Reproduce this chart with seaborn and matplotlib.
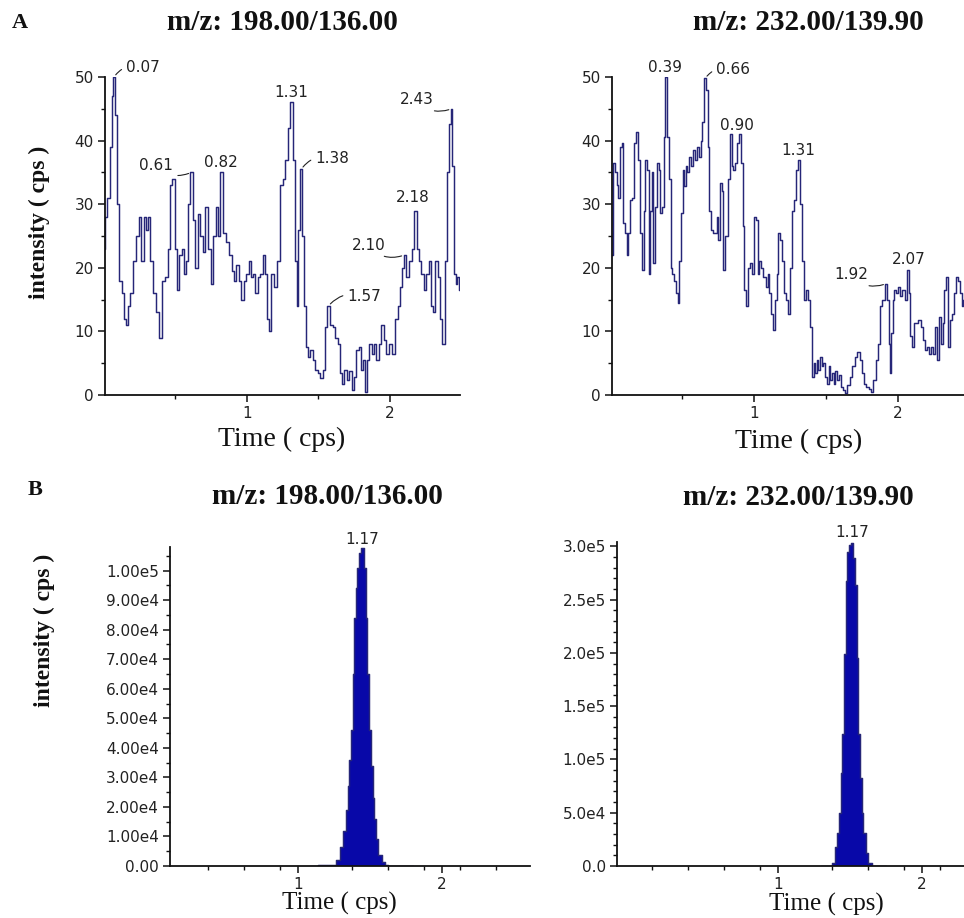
import matplotlib
matplotlib.use("Agg")
import matplotlib.pyplot as plt
import numpy as np
import pandas as pd
import seaborn as sns
from matplotlib.ticker import FixedLocator, FixedFormatter

# ---------------- data ----------------
# A: blank sample, channel 198.00/136.00
blank_198_t = [
    0.005, 0.015, 0.030, 0.050, 0.060, 0.070, 0.085, 0.100, 0.115, 0.135,
    0.147, 0.159, 0.170, 0.193, 0.217, 0.233, 0.252, 0.270, 0.287, 0.298,
    0.317, 0.333, 0.357, 0.373, 0.392, 0.415, 0.434, 0.457, 0.473, 0.485,
    0.503, 0.520, 0.536, 0.550, 0.566, 0.583, 0.597, 0.610, 0.630, 0.645,
    0.665, 0.683, 0.699, 0.718, 0.737, 0.755, 0.776, 0.788, 0.803, 0.820,
    0.840, 0.865, 0.886, 0.904, 0.916, 0.932, 0.951, 0.970, 0.986, 1.002,
    1.021, 1.033, 1.049, 1.068, 1.086, 1.103, 1.119, 1.138, 1.149, 1.161,
    1.179, 1.196, 1.219, 1.242, 1.259, 1.277, 1.296, 1.310, 1.331, 1.343,
    1.352, 1.366, 1.380, 1.394, 1.406, 1.422, 1.436, 1.452, 1.469, 1.487,
    1.506, 1.522, 1.538, 1.555, 1.570, 1.592, 1.608, 1.627, 1.646, 1.662,
    1.674, 1.690, 1.709, 1.725, 1.739, 1.755, 1.772, 1.790, 1.802, 1.818,
    1.832, 1.848, 1.865, 1.879, 1.895, 1.911, 1.930, 1.949, 1.965, 1.981,
    2.000, 2.023, 2.047, 2.065, 2.080, 2.090, 2.100, 2.128, 2.145, 2.163,
    2.180, 2.196, 2.210, 2.228, 2.245, 2.261, 2.280, 2.294, 2.308, 2.326,
    2.345, 2.359, 2.373, 2.392, 2.408, 2.420, 2.430, 2.443, 2.455, 2.466,
    2.478, 2.490,
]
blank_198_i = [
    23, 28, 31, 39, 47, 50, 44, 30, 18, 16,
    12, 11, 14, 16, 21, 25, 28, 21, 28, 26,
    28, 21, 16, 13, 9, 18, 18.5, 23, 33, 34,
    23, 16.5, 22, 23, 19, 21, 30, 35, 27.5, 20,
    28.5, 25, 22.5, 29.5, 23, 17.5, 25, 29.5, 25, 35,
    25.5, 24, 22, 19.5, 18, 20.5, 18, 15, 18, 19,
    21, 18.5, 19, 16, 18.5, 19, 22, 19, 12, 10,
    19, 17, 21, 33, 34, 37, 42, 46, 37, 21,
    14, 26, 35.5, 25, 14, 7.6, 6, 7, 5.5, 4,
    3.4, 2.6, 4, 10.7, 14, 11, 10.7, 9, 8, 3.4,
    1.8, 4, 2.4, 3.7, 0.8, 2.9, 7, 7.6, 4, 5.5,
    0.5, 5.5, 8, 6.5, 8, 5.5, 8, 11, 8.6, 6.5,
    8, 6.5, 12, 14, 17, 20, 22, 18.5, 21, 23,
    29, 23, 21, 19, 16.5, 19, 21, 14, 13, 21,
    18.5, 12, 8, 21, 35, 42.6, 45, 36, 19, 17.5,
    18.5, 16.5,
]
blank_198_peaks = [0.07, 0.61, 0.82, 1.31, 1.38, 1.57, 2.10, 2.18, 2.43]

# A: blank sample, channel 232.00/139.90
blank_232_t = [
    0.003, 0.008, 0.020, 0.036, 0.050, 0.059, 0.073, 0.085, 0.096, 0.108,
    0.120, 0.129, 0.143, 0.159, 0.175, 0.187, 0.199, 0.213, 0.224, 0.236,
    0.245, 0.259, 0.271, 0.282, 0.294, 0.305, 0.317, 0.329, 0.340, 0.352,
    0.364, 0.375, 0.390, 0.403, 0.414, 0.426, 0.438, 0.449, 0.461, 0.473,
    0.484, 0.496, 0.508, 0.519, 0.531, 0.542, 0.554, 0.570, 0.584, 0.600,
    0.612, 0.624, 0.635, 0.647, 0.660, 0.670, 0.682, 0.693, 0.705, 0.721,
    0.735, 0.747, 0.756, 0.768, 0.779, 0.791, 0.802, 0.814, 0.826, 0.840,
    0.851, 0.863, 0.875, 0.886, 0.900, 0.914, 0.926, 0.937, 0.949, 0.961,
    0.977, 0.991, 1.007, 1.019, 1.030, 1.042, 1.053, 1.072, 1.088, 1.100,
    1.111, 1.123, 1.139, 1.151, 1.165, 1.174, 1.186, 1.197, 1.216, 1.228,
    1.244, 1.258, 1.274, 1.286, 1.297, 1.310, 1.327, 1.339, 1.355, 1.367,
    1.379, 1.397, 1.409, 1.420, 1.430, 1.441, 1.455, 1.467, 1.478, 1.490,
    1.502, 1.513, 1.525, 1.537, 1.548, 1.560, 1.571, 1.583, 1.595, 1.611,
    1.630, 1.641, 1.657, 1.676, 1.692, 1.709, 1.727, 1.743, 1.757, 1.774,
    1.792, 1.808, 1.825, 1.839, 1.855, 1.871, 1.885, 1.903, 1.920, 1.932,
    1.943, 1.953, 1.960, 1.971, 1.983, 1.999, 2.011, 2.025, 2.041, 2.057,
    2.070, 2.083, 2.094, 2.110, 2.122, 2.138, 2.152, 2.168, 2.185, 2.196,
    2.210, 2.226, 2.238, 2.254, 2.268, 2.280, 2.291, 2.308, 2.319, 2.331,
    2.347, 2.359, 2.373, 2.389, 2.401, 2.415, 2.429, 2.443, 2.454, 2.463,
    2.480,
]
blank_232_i = [
    34, 22, 36.4, 35, 33, 31, 39, 39.6, 27, 25.4,
    22, 25.4, 30.7, 31, 39.6, 41.4, 37, 25.4, 19.7, 29,
    37, 35.4, 19, 29, 35, 20.7, 29.6, 36.4, 35.4, 28.6,
    29.6, 40.6, 50, 40.6, 34, 20, 19, 18, 16, 14.4,
    21, 28.6, 35.4, 32.8, 36, 35, 37.5, 36, 38.5, 37,
    39, 37.5, 40, 43, 49.8, 48, 39, 29, 26, 25.4,
    25.4, 28, 24.4, 33.3, 32, 19.7, 25, 25, 34, 41,
    36, 35.4, 36.4, 39.6, 41, 36.4, 26.5, 16.5, 14, 20,
    20.7, 19, 28, 27.5, 19, 21, 20, 18.6, 17, 19,
    16, 12.8, 10.2, 15, 19, 25.4, 24.4, 21, 16, 15,
    12.8, 20, 29, 30.7, 35.4, 37, 30, 21, 15, 16.5,
    15, 10.7, 2.9, 5, 3.4, 5.5, 4, 6, 4.5, 5,
    2.9, 1.8, 4.5, 2.4, 3.4, 1.8, 3.7, 2.4, 3.1, 1.3,
    0.8, 0.3, 1.6, 2.9, 4.5, 6, 6.8, 5.5, 3.4, 1.8,
    1.3, 1, 0.5, 2.4, 5.5, 8, 14, 15, 17.5, 15,
    8, 3.4, 9.7, 15, 16.5, 16, 17, 15.5, 16.5, 15,
    19.7, 16, 9.2, 7.6, 11.3, 11.3, 11.8, 10.7, 8.6, 7,
    7.6, 6.5, 7.6, 6.5, 10.7, 5.5, 12.3, 8, 11.3, 16.5,
    18.6, 7.6, 11.8, 12.8, 16, 18.6, 18, 16, 14, 15,
    14,
]
blank_232_peaks = [0.39, 0.66, 0.90, 1.31, 1.92, 2.07]

# B: spiked sample, channel 198.00/136.00
std_198_t = [1.080, 1.200, 1.245, 1.280, 1.303, 1.326, 1.338, 1.350, 1.361, 1.373,
             1.384, 1.396, 1.407, 1.419, 1.430, 1.447, 1.465, 1.477, 1.488, 1.500,
             1.512, 1.523, 1.535, 1.546, 1.569, 1.593, 1.616, 1.639, 1.800]
std_198_i = [0, 300, 500, 2000, 6400, 12000, 19000, 27000, 36000, 46000,
             65000, 84000, 94000, 101000, 106000, 107500, 101000, 84000, 65000, 46000,
             34000, 23000, 16000, 9000, 3600, 1400, 500, 0, 0]

# B: spiked sample, channel 232.00/139.90
std_232_t = [1.300, 1.373, 1.384, 1.407, 1.419, 1.430, 1.442, 1.454, 1.465, 1.477,
             1.488, 1.500, 1.516, 1.530, 1.542, 1.551, 1.563, 1.574, 1.588, 1.600,
             1.616, 1.639, 1.662, 1.750]
std_232_i = [0, 0, 2800, 18000, 31000, 50000, 87000, 124000, 199000, 267000,
             295000, 301000, 303000, 289000, 264000, 195000, 124000, 83000, 50000, 31000,
             12000, 2800, 0, 0]
std_peak_label = "1.17"

titles = ["m/z: 198.00/136.00", "m/z: 232.00/139.90"]
panel_letters = ["A", "B"]
y_label = "intensity ( cps )"
x_label = "Time ( cps)"

top_yticks = [0, 10, 20, 30, 40, 50]
top_yticklabels = ["0", "10", "20", "30", "40", "50"]
b198_yticks = [0, 1e4, 2e4, 3e4, 4e4, 5e4, 6e4, 7e4, 8e4, 9e4, 1e5]
b198_yticklabels = ["0.00", "1.00e4", "2.00e4", "3.00e4", "4.00e4", "5.00e4",
                    "6.00e4", "7.00e4", "8.00e4", "9.00e4", "1.00e5"]
b232_yticks = [0, 5e4, 1e5, 1.5e5, 2e5, 2.5e5, 3e5]
b232_yticklabels = ["0.0", "5.0e4", "1.0e5", "1.5e5", "2.0e5", "2.5e5", "3.0e5"]
x_ticks = [1, 2]
x_ticklabels = ["1", "2"]

# ---------------- style ----------------
sns.set_style("white")
plt.rcParams["font.family"] = ["DejaVu Sans"]
SERIF = "Liberation Serif"
LINE_C = "#262678"
FILL_C = "#0808a8"
TXT_C = "#222222"

W, H = 964, 918
fig = plt.figure(figsize=(W / 100, H / 100), dpi=100)
fig.patch.set_facecolor("white")


def rect(x0, x1, ytop, ybot):
    return [x0 / W, 1 - ybot / H, (x1 - x0) / W, (ybot - ytop) / H]


def style_axes(ax, xlim, ylim, yticks, yticklabels, yminor, xminor):
    ax.set_xlim(*xlim)
    ax.set_ylim(*ylim)
    for s in ("top", "right"):
        ax.spines[s].set_visible(False)
    for s in ("left", "bottom"):
        ax.spines[s].set_color("#111111")
        ax.spines[s].set_linewidth(1.3)
    ax.xaxis.set_major_locator(FixedLocator(x_ticks))
    ax.xaxis.set_major_formatter(FixedFormatter(x_ticklabels))
    ax.xaxis.set_minor_locator(FixedLocator(xminor))
    ax.yaxis.set_major_locator(FixedLocator(yticks))
    ax.yaxis.set_major_formatter(FixedFormatter(yticklabels))
    ax.yaxis.set_minor_locator(FixedLocator(yminor))
    ax.tick_params(which="major", direction="out", length=5, width=1.1,
                   color="#111111", labelsize=11, labelcolor=TXT_C, pad=3,
                   left=True, bottom=True)
    ax.tick_params(which="minor", direction="out", length=3, width=1.0,
                   color="#111111", left=True, bottom=True)
    ax.set_xlabel("")
    ax.set_ylabel("")
    ax.set_facecolor("white")


def draw_trace(ax, t, i):
    df = pd.DataFrame({"t": t, "i": i})
    sns.lineplot(data=df, x="t", y="i", ax=ax, color=LINE_C, lw=1.05,
                 drawstyle="steps-mid", estimator=None, sort=False, legend=False)


def label_peaks(ax, t, i, peaks, placement):
    t_arr = np.asarray(t)
    for rt, (dx, dy, ha, leader) in zip(peaks, placement):
        k = int(np.argmin(np.abs(t_arr - rt)))
        xy = (t_arr[k], i[k])
        kw = dict(xy=xy, xytext=(dx, dy), textcoords="offset pixels",
                  ha=ha, va="center", fontsize=11, color=TXT_C, annotation_clip=False)
        if leader:
            kw["arrowprops"] = dict(arrowstyle="-", color=TXT_C, lw=0.8,
                                    shrinkA=1, shrinkB=2,
                                    connectionstyle="arc3,rad=0.35")
        ax.annotate(f"{rt:.2f}", **kw)


# ---- A, left ----
ax1 = fig.add_axes(rect(105, 460, 77, 395))
draw_trace(ax1, blank_198_t, blank_198_i)
style_axes(ax1, (0.007, 2.49), (0, 50), top_yticks, top_yticklabels,
           [5, 15, 25, 35, 45], [0.5, 1.5])
label_peaks(ax1, blank_198_t, blank_198_i, blank_198_peaks, [
    (12, 10, "left", True), (-18, 7, "right", True), (0, 10, "center", False),
    (0, 10, "center", False), (14, 11, "left", True), (19, 9, "left", True),
    (-19, 10, "right", True), (-3, 13, "center", False), (-18, 9, "right", True),
])

# ---- A, right ----
ax2 = fig.add_axes(rect(612, 964, 77, 395))
draw_trace(ax2, blank_232_t, blank_232_i)
style_axes(ax2, (0.0105, 2.463), (0, 50), top_yticks, top_yticklabels,
           [5, 15, 25, 35, 45], [0.5, 1.5])
label_peaks(ax2, blank_232_t, blank_232_i, blank_232_peaks, [
    (-1, 10, "center", False), (11, 9, "left", True), (-3, 9, "center", False),
    (0, 9, "center", False), (-18, 9, "right", True), (1, 10, "center", False),
])

# ---- B, left ----
b_xminor = [0.375, 0.625, 0.875, 1.375, 1.625, 1.875, 2.125, 2.375]
ax3 = fig.add_axes(rect(170, 530, 547, 866))
ax3.fill_between(std_198_t, std_198_i, step="mid", color=FILL_C, lw=0)
draw_trace(ax3, std_198_t, std_198_i)
style_axes(ax3, (0.111, 2.611), (0, 1.08e5), b198_yticks, b198_yticklabels,
           list(np.arange(5e3, 1.08e5, 1e4)), b_xminor)
k3 = int(np.argmax(std_198_i))
ax3.annotate(std_peak_label, xy=(std_198_t[k3], std_198_i[k3]), xytext=(0, 9),
             textcoords="offset pixels", ha="center", va="center",
             fontsize=11, color=TXT_C, annotation_clip=False)

# ---- B, right ----
ax4 = fig.add_axes(rect(617, 964, 542, 866))
ax4.fill_between(std_232_t, std_232_i, step="mid", color=FILL_C, lw=0)
draw_trace(ax4, std_232_t, std_232_i)
style_axes(ax4, (-0.118, 2.292), (0, 3.04e5), b232_yticks, b232_yticklabels,
           [v for v in np.arange(1e4, 3.04e5, 1e4) if v % 5e4 != 0],
           [0.125] + b_xminor)
k4 = int(np.argmax(std_232_i))
ax4.annotate(std_peak_label, xy=(std_232_t[k4], std_232_i[k4]), xytext=(0, 11),
             textcoords="offset pixels", ha="center", va="center",
             fontsize=11, color=TXT_C, annotation_clip=False)


# ---------------- figure text ----------------
def ftext(x, y, s, **kw):
    fig.text(x / W, 1 - y / H, s, **kw)


title_kw = dict(fontfamily=SERIF, fontweight="bold", fontsize=21, color="#111111",
                ha="center", va="center")
ftext(282, 23, titles[0], **title_kw)
ftext(808, 23, titles[1], **title_kw)
ftext(327, 496, titles[0], **title_kw)
ftext(798, 498, titles[1], **title_kw)

letter_kw = dict(fontfamily=SERIF, fontweight="bold", fontsize=16, color="#111111",
                 ha="left", va="center")
ftext(12, 23, panel_letters[0], **letter_kw)
ftext(28, 490, panel_letters[1], **letter_kw)

ylab_kw = dict(fontfamily=SERIF, fontweight="bold", fontsize=17, color="#111111",
               ha="center", va="center", rotation=90)
ftext(39, 222, y_label, **ylab_kw)
ftext(44, 630, y_label, **ylab_kw)

xlab_kw = dict(fontfamily=SERIF, fontsize=20, color="#111111",
               ha="center", va="center")
ftext(282, 439, x_label, **xlab_kw)
ftext(799, 441, x_label, **xlab_kw)
xlab_b_kw = dict(xlab_kw, fontsize=18)
ftext(339, 903, x_label, **xlab_b_kw)
ftext(826, 904, x_label, **xlab_b_kw)

fig.savefig("out.png", dpi=100, facecolor="white")
